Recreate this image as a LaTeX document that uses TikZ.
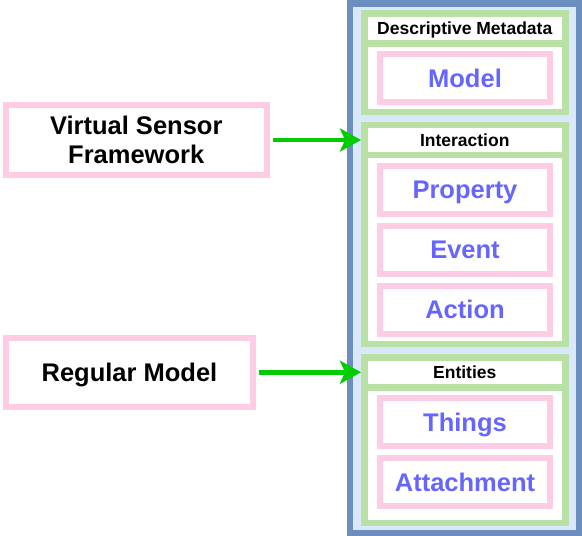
\documentclass[tikz,border=0pt]{standalone}
\usepackage{fontspec}
\setmainfont{Liberation Sans}
\usetikzlibrary{positioning, arrows.meta}

\definecolor{pinkline}{HTML}{FFCCE6}
\definecolor{greenline}{HTML}{B9E0A5}
\definecolor{blueline}{HTML}{6C8EBF}
\definecolor{bluefill}{HTML}{DAE8FC}
\definecolor{labelblue}{HTML}{6666FF}
\definecolor{arrowgreen}{HTML}{00CC00}

\begin{document}
\begin{tikzpicture}[x=1pt, y=1pt, node distance = 60pt, on grid,
	lane/.style={draw=greenline, line width=6.5pt, fill=white, minimum width=201pt},
	lanehead/.style={lane, minimum height=30pt, inner sep=0pt, text height=12.5pt, text depth=0pt, font=\bfseries\fontsize{17.5}{20}\selectfont},
	item/.style={draw=pinkline, line width=6pt, fill=white, minimum width=170pt, minimum height=48pt, inner sep=0pt, text height=18.3pt, text depth=0pt, text=labelblue, font=\bfseries\fontsize{25.5}{29}\selectfont},
	input/.style={draw=pinkline, line width=6pt, fill=white, align=center, inner sep=0pt, text height=18.3pt, text depth=0pt, font=\bfseries\fontsize{25.5}{29}\selectfont},
	feed/.style={draw=arrowgreen, line width=4.5pt, shorten <=3pt, -{Stealth[length=21pt, width=23pt, inset=5pt]}}]
			\useasboundingbox (0,0) rectangle (582,-536);

			% outer container
			\node[draw=blueline, line width=6.5pt, fill=bluefill, minimum width=229.5pt, minimum height=529.7pt] (stack) at (464.75,-268.15) {};

			% lanes
			\node[lane, minimum height=98.5pt] (desc) at (464.75,-62.5) {};
			\node[lane, minimum height=218.75pt] (inter) at (464.75,-234.375) {};
			\node[lane, minimum height=165.5pt] (ent) at (464.75,-440) {};

			\node[lanehead, anchor=north] (descHead) at (desc.north) {Descriptive Metadata};
			\node[lanehead, anchor=north] (interHead) at (inter.north) {Interaction};
			\node[lanehead, anchor=north] (entHead) at (ent.north) {Entities};

			% items
			\node[item] (model) at (465,-78.25) {Model};
			\node[item] (prop) at (465,-189.5) {Property};
			\node[item, below of=prop] (event) {Event};
			\node[item, below of=event] (action) {Action};
			\node[item] (things) at (465,-422.25) {Things};
			\node[item, below of=things] (attach) {Attachment};

			% inputs
			\node[input, text height=47.3pt, minimum width=260.5pt, minimum height=70pt] (vsf) at (136.25,-140) {Virtual Sensor\\Framework};
			\node[input, minimum width=247pt, minimum height=69pt] (regular) at (129.5,-372.25) {Regular Model};

			\draw[feed] (vsf) -- (interHead);
			\draw[feed] (regular) -- (entHead);

		\end{tikzpicture}
\end{document}
